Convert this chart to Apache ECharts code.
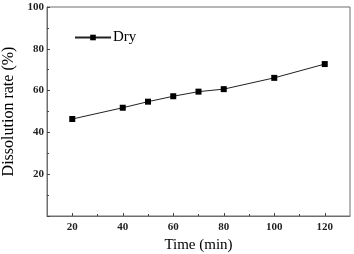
<!DOCTYPE html>
<html><head><meta charset="utf-8">
<script src="https://cdn.jsdelivr.net/npm/echarts@6/dist/echarts.min.js"></script>
<style>html,body{margin:0;padding:0;background:#fff}#c{width:354px;height:254px}</style>
</head><body><div id="c"></div>
<script>
const times = [20, 40, 50, 60, 70, 80, 100, 120];
const dryRate = [46.4, 51.8, 54.7, 57.3, 59.5, 60.7, 66.1, 72.7];
const xMajor = [20, 40, 60, 80, 100, 120];
const xMinor = [30, 50, 70, 90, 110];
const seriesName = 'Dry';
const font = 'Liberation Serif';
const chart = echarts.init(document.getElementById('c'));
chart.setOption({
  animation: false,
  backgroundColor: '#fff',
  grid: {left: 47, top: 7, right: 4, bottom: 38, containLabel: false, outerBoundsMode: 'none',
    show: true, borderColor: '#6e6e6e', borderWidth: 1},
  legend: {
    left: 69, top: 25, itemWidth: 36, itemHeight: 7, itemGap: 0,
    textStyle: {fontFamily: font, fontSize: 15, color: '#000', padding: [0, 0, 0, -3]},
    data: [seriesName]
  },
  xAxis: [{
    type: 'value', min: 10, max: 130, interval: 10,
    name: 'Time (min)', nameLocation: 'middle', nameGap: 21,
    nameTextStyle: {fontFamily: font, fontSize: 15, fontWeight: 'normal', color: '#000'},
    axisLine: {show: true, lineStyle: {color: '#6e6e6e'}},
    axisTick: {show: true, inside: true, length: 3, customValues: xMajor, lineStyle: {color: '#444'}},
    axisLabel: {customValues: xMajor, fontFamily: font, fontSize: 11, fontWeight: 'bold', color: '#222', margin: 6},
    splitLine: {show: false}
  }, {
    type: 'value', min: 10, max: 130, interval: 10, position: 'bottom',
    axisLine: {show: false},
    axisTick: {show: true, inside: true, length: 2, customValues: xMinor, lineStyle: {color: '#444'}},
    axisLabel: {show: false}, splitLine: {show: false}
  }],
  yAxis: {
    type: 'value', min: 0, max: 100, interval: 20,
    name: 'Dissolution rate (%)', nameLocation: 'middle', nameGap: 26,
    nameTextStyle: {fontFamily: font, fontSize: 16, fontWeight: 'normal', color: '#000'},
    axisLine: {show: true, lineStyle: {color: '#6e6e6e'}},
    axisTick: {show: true, inside: true, length: 3, lineStyle: {color: '#444'}},
    minorTick: {show: true, splitNumber: 2, length: 2, lineStyle: {color: '#444'}},
    axisLabel: {fontFamily: font, fontSize: 11, fontWeight: 'bold', color: '#222', margin: 3,
      formatter: v => v === 0 ? '' : String(v)},
    splitLine: {show: false}
  },
  series: [{
    name: seriesName, type: 'line', xAxisIndex: 0,
    data: times.map((t, i) => [t, dryRate[i]]),
    symbol: 'rect', symbolSize: 6,
    lineStyle: {color: '#222', width: 1},
    itemStyle: {color: '#000'}
  }]
});
</script></body></html>
